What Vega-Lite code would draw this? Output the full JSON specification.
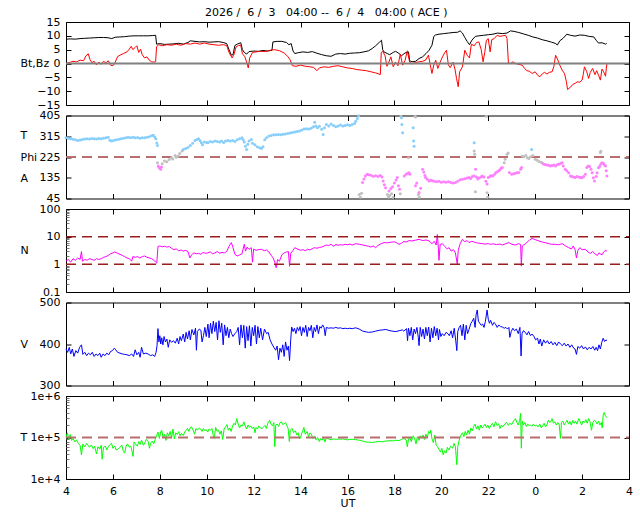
{
"$schema": "https://vega.github.io/schema/vega-lite/v6.json",
"padding": {"left": 19, "top": 6, "right": 5, "bottom": 2},
"background": "white",
"title": {"text": "2026 /\u00a0\u00a06 /\u00a0\u00a03\u00a0\u00a0\u00a004:00 --\u00a0\u00a06 /\u00a0\u00a04\u00a0\u00a0\u00a004:00 ( ACE )", "anchor": "middle", "font": "DejaVu Sans", "fontSize": 11, "fontWeight": "normal", "color": "black", "offset": -2},
"config": {
  "font": "DejaVu Sans",
  "view": {"stroke": "black", "strokeWidth": 1},
  "axis": {"domain": false, "grid": false, "tickColor": "black", "tickSize": -5, "labelFont": "DejaVu Sans", "labelFontSize": 11, "labelColor": "black", "labelPadding": 11, "titleFont": "DejaVu Sans", "titleFontSize": 11, "titleFontWeight": "normal", "titleColor": "black", "labelFlush": false, "labelOverlap": false}
},
"bounds": "flush",
"spacing": 10.5,
"datasets": {
"bt": [{"h":4.0,"v":8.8},{"h":4.2,"v":8.9},{"h":4.4,"v":8.8},{"h":4.6,"v":9.0},{"h":4.8,"v":9.1},{"h":5.0,"v":9.2},{"h":5.2,"v":9.3},{"h":5.4,"v":9.4},{"h":5.6,"v":9.4},{"h":5.8,"v":9.3},{"h":5.95,"v":9.0},{"h":6.1,"v":9.5},{"h":6.3,"v":9.6},{"h":6.5,"v":9.7},{"h":6.7,"v":9.9},{"h":6.9,"v":10.0},{"h":7.1,"v":10.0},{"h":7.3,"v":10.0},{"h":7.5,"v":10.0},{"h":7.7,"v":10.1},{"h":7.82,"v":10.2},{"h":7.86,"v":7.0},{"h":8.0,"v":7.2},{"h":8.2,"v":6.9},{"h":8.4,"v":7.0},{"h":8.6,"v":7.1},{"h":8.8,"v":7.3},{"h":9.0,"v":7.0},{"h":9.2,"v":7.6},{"h":9.3,"v":8.2},{"h":9.5,"v":8.0},{"h":9.7,"v":7.8},{"h":9.9,"v":7.9},{"h":10.1,"v":7.7},{"h":10.3,"v":7.8},{"h":10.5,"v":7.9},{"h":10.7,"v":7.6},{"h":10.85,"v":7.2},{"h":10.95,"v":5.0},{"h":11.05,"v":3.0},{"h":11.12,"v":3.2},{"h":11.2,"v":6.5},{"h":11.3,"v":7.0},{"h":11.45,"v":7.5},{"h":11.52,"v":5.0},{"h":11.6,"v":4.0},{"h":11.7,"v":3.4},{"h":11.8,"v":4.3},{"h":12.0,"v":4.5},{"h":12.2,"v":4.4},{"h":12.4,"v":4.7},{"h":12.6,"v":4.5},{"h":12.78,"v":4.8},{"h":12.82,"v":7.8},{"h":13.0,"v":8.0},{"h":13.2,"v":8.0},{"h":13.4,"v":7.6},{"h":13.5,"v":6.8},{"h":13.6,"v":7.2},{"h":13.68,"v":4.5},{"h":13.75,"v":3.6},{"h":13.9,"v":3.9},{"h":14.1,"v":4.2},{"h":14.3,"v":4.0},{"h":14.5,"v":4.3},{"h":14.7,"v":3.7},{"h":14.9,"v":3.2},{"h":15.1,"v":2.8},{"h":15.3,"v":2.6},{"h":15.5,"v":3.4},{"h":15.7,"v":3.6},{"h":15.9,"v":3.4},{"h":16.1,"v":3.7},{"h":16.3,"v":3.8},{"h":16.5,"v":3.9},{"h":16.7,"v":4.2},{"h":16.9,"v":4.6},{"h":17.05,"v":5.4},{"h":17.2,"v":6.4},{"h":17.35,"v":7.6},{"h":17.45,"v":8.4},{"h":17.5,"v":5.0},{"h":17.55,"v":4.2},{"h":17.7,"v":3.6},{"h":17.8,"v":3.2},{"h":17.95,"v":4.0},{"h":18.05,"v":4.4},{"h":18.2,"v":3.6},{"h":18.3,"v":2.8},{"h":18.45,"v":3.8},{"h":18.6,"v":4.2},{"h":18.65,"v":1.0},{"h":18.75,"v":0.6},{"h":18.9,"v":0.8},{"h":19.05,"v":1.8},{"h":19.2,"v":2.4},{"h":19.35,"v":3.6},{"h":19.48,"v":4.8},{"h":19.6,"v":6.6},{"h":19.68,"v":9.8},{"h":19.75,"v":10.3},{"h":19.9,"v":10.6},{"h":20.1,"v":10.8},{"h":20.3,"v":11.0},{"h":20.5,"v":11.2},{"h":20.7,"v":11.3},{"h":20.8,"v":11.8},{"h":20.9,"v":11.0},{"h":21.0,"v":9.4},{"h":21.1,"v":8.0},{"h":21.2,"v":6.8},{"h":21.3,"v":8.4},{"h":21.45,"v":9.8},{"h":21.6,"v":10.0},{"h":21.8,"v":10.2},{"h":22.0,"v":10.4},{"h":22.2,"v":10.6},{"h":22.4,"v":11.0},{"h":22.6,"v":10.8},{"h":22.8,"v":11.0},{"h":22.95,"v":11.8},{"h":23.1,"v":11.6},{"h":23.3,"v":11.2},{"h":23.5,"v":10.7},{"h":23.7,"v":10.2},{"h":23.9,"v":9.6},{"h":24.1,"v":9.2},{"h":24.3,"v":8.6},{"h":24.5,"v":8.2},{"h":24.7,"v":7.7},{"h":24.85,"v":7.3},{"h":24.95,"v":6.7},{"h":25.05,"v":8.2},{"h":25.2,"v":9.2},{"h":25.35,"v":10.6},{"h":25.5,"v":10.2},{"h":25.7,"v":9.9},{"h":25.9,"v":10.3},{"h":26.1,"v":10.2},{"h":26.3,"v":9.8},{"h":26.5,"v":9.6},{"h":26.6,"v":8.4},{"h":26.7,"v":7.4},{"h":26.85,"v":7.5},{"h":27.0,"v":7.0},{"h":27.05,"v":7.3}],
"bz": [{"h":4.0,"v":-0.2},{"h":4.1,"v":0.3},{"h":4.2,"v":0.5},{"h":4.3,"v":0.8},{"h":4.45,"v":0.6},{"h":4.6,"v":1.2},{"h":4.75,"v":1.0},{"h":4.85,"v":2.8},{"h":4.95,"v":3.5},{"h":5.02,"v":1.5},{"h":5.1,"v":0.3},{"h":5.2,"v":0.8},{"h":5.3,"v":-0.5},{"h":5.4,"v":0.5},{"h":5.5,"v":-0.3},{"h":5.6,"v":0.8},{"h":5.7,"v":0.2},{"h":5.8,"v":1.0},{"h":5.9,"v":-0.6},{"h":6.0,"v":-0.8},{"h":6.1,"v":0.5},{"h":6.2,"v":2.5},{"h":6.3,"v":3.0},{"h":6.45,"v":3.6},{"h":6.6,"v":4.2},{"h":6.7,"v":5.2},{"h":6.78,"v":6.2},{"h":6.85,"v":5.0},{"h":6.95,"v":5.8},{"h":7.02,"v":6.4},{"h":7.1,"v":4.0},{"h":7.18,"v":5.2},{"h":7.25,"v":3.2},{"h":7.35,"v":2.0},{"h":7.45,"v":2.4},{"h":7.55,"v":1.2},{"h":7.65,"v":0.6},{"h":7.75,"v":0.5},{"h":7.82,"v":0.7},{"h":7.86,"v":6.0},{"h":7.95,"v":6.8},{"h":8.1,"v":6.4},{"h":8.3,"v":6.8},{"h":8.5,"v":6.6},{"h":8.7,"v":7.0},{"h":8.9,"v":6.6},{"h":9.1,"v":7.2},{"h":9.3,"v":7.0},{"h":9.5,"v":7.4},{"h":9.7,"v":7.0},{"h":9.9,"v":7.4},{"h":10.1,"v":7.0},{"h":10.3,"v":6.8},{"h":10.5,"v":6.6},{"h":10.7,"v":6.8},{"h":10.85,"v":6.5},{"h":10.95,"v":4.0},{"h":11.08,"v":2.0},{"h":11.15,"v":3.0},{"h":11.25,"v":6.0},{"h":11.35,"v":6.5},{"h":11.45,"v":6.6},{"h":11.52,"v":3.5},{"h":11.62,"v":2.5},{"h":11.7,"v":0.5},{"h":11.77,"v":-1.6},{"h":11.83,"v":2.0},{"h":11.95,"v":4.0},{"h":12.1,"v":4.2},{"h":12.3,"v":4.4},{"h":12.5,"v":4.3},{"h":12.7,"v":4.8},{"h":12.9,"v":5.0},{"h":13.1,"v":4.6},{"h":13.3,"v":3.8},{"h":13.45,"v":2.6},{"h":13.55,"v":1.4},{"h":13.65,"v":-0.8},{"h":13.8,"v":-1.0},{"h":14.0,"v":-0.6},{"h":14.2,"v":-1.0},{"h":14.4,"v":-1.2},{"h":14.55,"v":-1.4},{"h":14.7,"v":-2.6},{"h":14.8,"v":-1.6},{"h":15.0,"v":-1.2},{"h":15.2,"v":-1.4},{"h":15.4,"v":-1.0},{"h":15.6,"v":-0.8},{"h":15.8,"v":-1.2},{"h":16.0,"v":-1.6},{"h":16.2,"v":-1.8},{"h":16.4,"v":-2.2},{"h":16.6,"v":-2.4},{"h":16.8,"v":-2.6},{"h":17.0,"v":-3.0},{"h":17.2,"v":-3.4},{"h":17.4,"v":-4.0},{"h":17.44,"v":4.0},{"h":17.5,"v":4.4},{"h":17.6,"v":2.8},{"h":17.68,"v":-1.0},{"h":17.75,"v":0.2},{"h":17.85,"v":2.4},{"h":17.95,"v":-1.2},{"h":18.05,"v":0.5},{"h":18.15,"v":-0.8},{"h":18.25,"v":3.4},{"h":18.35,"v":-0.6},{"h":18.45,"v":1.0},{"h":18.55,"v":4.6},{"h":18.65,"v":0.5},{"h":18.75,"v":-0.2},{"h":18.9,"v":0.4},{"h":19.05,"v":0.6},{"h":19.2,"v":0.8},{"h":19.33,"v":1.2},{"h":19.45,"v":3.0},{"h":19.55,"v":-1.5},{"h":19.6,"v":-3.6},{"h":19.68,"v":-0.5},{"h":19.76,"v":1.2},{"h":19.85,"v":-1.8},{"h":19.95,"v":0.5},{"h":20.05,"v":2.4},{"h":20.15,"v":4.0},{"h":20.22,"v":4.8},{"h":20.3,"v":-0.5},{"h":20.38,"v":-1.5},{"h":20.5,"v":0.5},{"h":20.58,"v":-2.0},{"h":20.65,"v":-5.5},{"h":20.72,"v":-8.4},{"h":20.78,"v":-3.0},{"h":20.9,"v":-1.2},{"h":21.0,"v":4.8},{"h":21.1,"v":3.0},{"h":21.2,"v":2.0},{"h":21.28,"v":7.0},{"h":21.4,"v":6.4},{"h":21.5,"v":7.6},{"h":21.6,"v":7.8},{"h":21.7,"v":5.0},{"h":21.78,"v":0.6},{"h":21.85,"v":4.0},{"h":21.92,"v":8.4},{"h":22.0,"v":9.0},{"h":22.08,"v":4.2},{"h":22.15,"v":8.6},{"h":22.25,"v":9.0},{"h":22.38,"v":10.2},{"h":22.5,"v":9.8},{"h":22.62,"v":10.0},{"h":22.74,"v":10.2},{"h":22.8,"v":9.0},{"h":22.86,"v":0.2},{"h":22.95,"v":0.0},{"h":23.05,"v":0.6},{"h":23.15,"v":0.0},{"h":23.3,"v":-0.3},{"h":23.45,"v":-0.6},{"h":23.55,"v":-1.8},{"h":23.65,"v":-2.6},{"h":23.75,"v":-2.8},{"h":23.87,"v":-3.6},{"h":24.0,"v":-3.0},{"h":24.1,"v":-4.2},{"h":24.2,"v":-4.8},{"h":24.3,"v":-3.8},{"h":24.4,"v":-3.2},{"h":24.5,"v":-3.8},{"h":24.6,"v":-3.2},{"h":24.72,"v":-3.0},{"h":24.8,"v":-1.0},{"h":24.87,"v":3.0},{"h":24.95,"v":1.6},{"h":25.05,"v":-0.6},{"h":25.15,"v":-2.4},{"h":25.25,"v":-3.6},{"h":25.33,"v":-6.5},{"h":25.38,"v":-9.4},{"h":25.5,"v":-8.6},{"h":25.6,"v":-7.6},{"h":25.7,"v":-7.2},{"h":25.8,"v":-6.6},{"h":25.9,"v":-6.8},{"h":26.0,"v":-6.0},{"h":26.05,"v":-4.0},{"h":26.1,"v":-1.2},{"h":26.2,"v":-3.0},{"h":26.28,"v":-5.4},{"h":26.35,"v":-3.2},{"h":26.45,"v":-1.8},{"h":26.55,"v":-4.0},{"h":26.62,"v":-2.6},{"h":26.7,"v":-4.2},{"h":26.78,"v":-6.0},{"h":26.85,"v":-2.0},{"h":26.92,"v":-3.0},{"h":27.0,"v":-4.6},{"h":27.03,"v":-2.0},{"h":27.06,"v":0.0}],
"phi": [{"h":4.0,"v":308,"s":"T"},{"h":4.1,"v":306,"s":"T"},{"h":4.2,"v":304,"s":"T"},{"h":4.3,"v":302,"s":"T"},{"h":4.4,"v":300,"s":"T"},{"h":4.5,"v":297,"s":"T"},{"h":4.6,"v":299,"s":"T"},{"h":4.7,"v":301,"s":"T"},{"h":4.8,"v":303,"s":"T"},{"h":4.9,"v":304,"s":"T"},{"h":5.0,"v":303,"s":"T"},{"h":5.1,"v":305,"s":"T"},{"h":5.2,"v":304,"s":"T"},{"h":5.3,"v":303,"s":"T"},{"h":5.4,"v":305,"s":"T"},{"h":5.5,"v":304,"s":"T"},{"h":5.6,"v":306,"s":"T"},{"h":5.7,"v":308,"s":"T"},{"h":5.8,"v":311,"s":"T"},{"h":5.87,"v":298,"s":"T"},{"h":5.95,"v":294,"s":"T"},{"h":6.05,"v":298,"s":"T"},{"h":6.15,"v":300,"s":"T"},{"h":6.25,"v":302,"s":"T"},{"h":6.35,"v":304,"s":"T"},{"h":6.45,"v":306,"s":"T"},{"h":6.55,"v":309,"s":"T"},{"h":6.65,"v":311,"s":"T"},{"h":6.75,"v":309,"s":"T"},{"h":6.85,"v":311,"s":"T"},{"h":6.95,"v":308,"s":"T"},{"h":7.05,"v":310,"s":"T"},{"h":7.15,"v":306,"s":"T"},{"h":7.25,"v":308,"s":"T"},{"h":7.35,"v":309,"s":"T"},{"h":7.45,"v":311,"s":"T"},{"h":7.55,"v":313,"s":"T"},{"h":7.65,"v":317,"s":"T"},{"h":7.72,"v":319,"s":"T"},{"h":7.78,"v":312,"s":"T"},{"h":7.83,"v":304,"s":"T"},{"h":7.87,"v":286,"s":"T"},{"h":7.9,"v":275,"s":"T"},{"h":7.93,"v":186,"s":"A"},{"h":7.97,"v":180,"s":"A"},{"h":8.0,"v":178,"s":"A"},{"h":8.03,"v":172,"s":"A"},{"h":8.07,"v":182,"s":"A"},{"h":7.9,"v":200,"s":"G"},{"h":8.1,"v":196,"s":"G"},{"h":8.2,"v":208,"s":"G"},{"h":8.3,"v":204,"s":"G"},{"h":8.4,"v":214,"s":"G"},{"h":8.5,"v":222,"s":"G"},{"h":8.55,"v":216,"s":"G"},{"h":8.65,"v":232,"s":"G"},{"h":8.7,"v":224,"s":"G"},{"h":8.78,"v":229,"s":"G"},{"h":8.85,"v":240,"s":"G"},{"h":8.95,"v":251,"s":"G"},{"h":9.0,"v":258,"s":"T"},{"h":9.1,"v":262,"s":"T"},{"h":9.2,"v":266,"s":"T"},{"h":9.3,"v":275,"s":"T"},{"h":9.4,"v":285,"s":"T"},{"h":9.5,"v":297,"s":"T"},{"h":9.58,"v":301,"s":"T"},{"h":9.65,"v":304,"s":"T"},{"h":9.72,"v":296,"s":"T"},{"h":9.77,"v":287,"s":"T"},{"h":9.82,"v":278,"s":"T"},{"h":9.9,"v":290,"s":"T"},{"h":10.0,"v":288,"s":"T"},{"h":10.05,"v":287,"s":"T"},{"h":10.15,"v":292,"s":"T"},{"h":10.25,"v":290,"s":"T"},{"h":10.35,"v":294,"s":"T"},{"h":10.45,"v":292,"s":"T"},{"h":10.55,"v":290,"s":"T"},{"h":10.63,"v":294,"s":"T"},{"h":10.72,"v":288,"s":"T"},{"h":10.8,"v":294,"s":"T"},{"h":10.9,"v":297,"s":"T"},{"h":11.0,"v":294,"s":"T"},{"h":11.1,"v":297,"s":"T"},{"h":11.2,"v":292,"s":"T"},{"h":11.3,"v":300,"s":"T"},{"h":11.4,"v":304,"s":"T"},{"h":11.5,"v":309,"s":"T"},{"h":11.55,"v":300,"s":"T"},{"h":11.6,"v":290,"s":"T"},{"h":11.65,"v":272,"s":"T"},{"h":11.7,"v":258,"s":"T"},{"h":11.75,"v":280,"s":"T"},{"h":11.8,"v":294,"s":"T"},{"h":11.9,"v":301,"s":"T"},{"h":11.95,"v":285,"s":"T"},{"h":12.05,"v":278,"s":"T"},{"h":12.15,"v":270,"s":"T"},{"h":12.25,"v":265,"s":"T"},{"h":12.33,"v":262,"s":"T"},{"h":12.4,"v":270,"s":"T"},{"h":12.47,"v":300,"s":"T"},{"h":12.55,"v":309,"s":"T"},{"h":12.65,"v":316,"s":"T"},{"h":12.75,"v":318,"s":"T"},{"h":12.85,"v":322,"s":"T"},{"h":12.95,"v":321,"s":"T"},{"h":13.05,"v":323,"s":"T"},{"h":13.15,"v":322,"s":"T"},{"h":13.25,"v":324,"s":"T"},{"h":13.35,"v":325,"s":"T"},{"h":13.45,"v":327,"s":"T"},{"h":13.55,"v":329,"s":"T"},{"h":13.65,"v":331,"s":"T"},{"h":13.75,"v":333,"s":"T"},{"h":13.85,"v":336,"s":"T"},{"h":13.95,"v":338,"s":"T"},{"h":14.05,"v":342,"s":"T"},{"h":14.15,"v":346,"s":"T"},{"h":14.25,"v":348,"s":"T"},{"h":14.35,"v":346,"s":"T"},{"h":14.45,"v":350,"s":"T"},{"h":14.55,"v":356,"s":"T"},{"h":14.6,"v":376,"s":"T"},{"h":14.65,"v":360,"s":"T"},{"h":14.72,"v":352,"s":"T"},{"h":14.8,"v":358,"s":"T"},{"h":14.9,"v":345,"s":"T"},{"h":14.96,"v":323,"s":"T"},{"h":15.02,"v":352,"s":"T"},{"h":15.1,"v":366,"s":"T"},{"h":15.2,"v":360,"s":"T"},{"h":15.3,"v":368,"s":"T"},{"h":15.4,"v":362,"s":"T"},{"h":15.5,"v":356,"s":"T"},{"h":15.6,"v":360,"s":"T"},{"h":15.7,"v":364,"s":"T"},{"h":15.8,"v":359,"s":"T"},{"h":15.9,"v":362,"s":"T"},{"h":16.0,"v":365,"s":"T"},{"h":16.1,"v":362,"s":"T"},{"h":16.2,"v":366,"s":"T"},{"h":16.3,"v":370,"s":"T"},{"h":16.35,"v":380,"s":"T"},{"h":16.42,"v":392,"s":"T"},{"h":16.47,"v":404,"s":"T"},{"h":16.5,"v":62,"s":"G"},{"h":16.55,"v":50,"s":"G"},{"h":16.6,"v":68,"s":"G"},{"h":16.64,"v":114,"s":"A"},{"h":16.7,"v":130,"s":"A"},{"h":16.76,"v":143,"s":"A"},{"h":16.84,"v":150,"s":"A"},{"h":16.9,"v":148,"s":"A"},{"h":17.0,"v":146,"s":"A"},{"h":17.1,"v":142,"s":"A"},{"h":17.2,"v":144,"s":"A"},{"h":17.3,"v":140,"s":"A"},{"h":17.4,"v":145,"s":"A"},{"h":17.47,"v":138,"s":"A"},{"h":17.52,"v":121,"s":"A"},{"h":17.57,"v":105,"s":"A"},{"h":17.62,"v":92,"s":"A"},{"h":17.7,"v":62,"s":"G"},{"h":17.75,"v":52,"s":"G"},{"h":17.8,"v":58,"s":"G"},{"h":17.88,"v":66,"s":"G"},{"h":17.95,"v":50,"s":"G"},{"h":17.77,"v":78,"s":"A"},{"h":17.85,"v":88,"s":"A"},{"h":17.92,"v":96,"s":"A"},{"h":18.0,"v":112,"s":"A"},{"h":18.07,"v":125,"s":"A"},{"h":18.12,"v":136,"s":"A"},{"h":18.17,"v":100,"s":"A"},{"h":18.22,"v":85,"s":"A"},{"h":18.25,"v":66,"s":"G"},{"h":18.28,"v":402,"s":"G"},{"h":18.3,"v":395,"s":"T"},{"h":18.32,"v":366,"s":"T"},{"h":18.35,"v":330,"s":"T"},{"h":18.42,"v":143,"s":"A"},{"h":18.5,"v":150,"s":"A"},{"h":18.56,"v":153,"s":"A"},{"h":18.62,"v":157,"s":"A"},{"h":18.66,"v":150,"s":"A"},{"h":18.6,"v":222,"s":"G"},{"h":18.8,"v":352,"s":"T"},{"h":18.82,"v":294,"s":"T"},{"h":18.84,"v":272,"s":"T"},{"h":18.88,"v":402,"s":"G"},{"h":18.9,"v":398,"s":"G"},{"h":19.02,"v":62,"s":"G"},{"h":19.06,"v":50,"s":"G"},{"h":18.9,"v":100,"s":"A"},{"h":18.95,"v":112,"s":"A"},{"h":19.05,"v":71,"s":"A"},{"h":19.12,"v":90,"s":"A"},{"h":19.2,"v":172,"s":"A"},{"h":19.25,"v":160,"s":"A"},{"h":19.3,"v":145,"s":"A"},{"h":19.33,"v":136,"s":"A"},{"h":19.4,"v":128,"s":"A"},{"h":19.48,"v":121,"s":"A"},{"h":19.55,"v":124,"s":"A"},{"h":19.62,"v":122,"s":"A"},{"h":19.7,"v":120,"s":"A"},{"h":19.8,"v":118,"s":"A"},{"h":19.9,"v":120,"s":"A"},{"h":20.0,"v":116,"s":"A"},{"h":20.1,"v":118,"s":"A"},{"h":20.2,"v":116,"s":"A"},{"h":20.3,"v":118,"s":"A"},{"h":20.4,"v":114,"s":"A"},{"h":20.5,"v":112,"s":"A"},{"h":20.6,"v":114,"s":"A"},{"h":20.7,"v":120,"s":"A"},{"h":20.8,"v":126,"s":"A"},{"h":20.9,"v":129,"s":"A"},{"h":21.0,"v":131,"s":"A"},{"h":21.1,"v":134,"s":"A"},{"h":21.18,"v":136,"s":"A"},{"h":21.25,"v":132,"s":"A"},{"h":21.32,"v":140,"s":"A"},{"h":21.4,"v":143,"s":"A"},{"h":21.46,"v":172,"s":"A"},{"h":21.5,"v":138,"s":"A"},{"h":21.55,"v":130,"s":"A"},{"h":21.62,"v":135,"s":"A"},{"h":21.7,"v":138,"s":"A"},{"h":21.74,"v":143,"s":"A"},{"h":21.82,"v":138,"s":"A"},{"h":21.9,"v":120,"s":"A"},{"h":21.95,"v":108,"s":"A"},{"h":22.0,"v":136,"s":"A"},{"h":22.07,"v":140,"s":"A"},{"h":22.13,"v":145,"s":"A"},{"h":22.2,"v":143,"s":"A"},{"h":22.27,"v":150,"s":"A"},{"h":22.33,"v":158,"s":"A"},{"h":22.4,"v":162,"s":"A"},{"h":22.45,"v":165,"s":"A"},{"h":22.5,"v":170,"s":"A"},{"h":22.55,"v":176,"s":"A"},{"h":22.6,"v":179,"s":"A"},{"h":21.4,"v":251,"s":"G"},{"h":21.42,"v":237,"s":"G"},{"h":21.45,"v":74,"s":"G"},{"h":21.92,"v":402,"s":"G"},{"h":21.95,"v":70,"s":"G"},{"h":21.98,"v":50,"s":"G"},{"h":22.68,"v":200,"s":"G"},{"h":22.72,"v":215,"s":"G"},{"h":22.8,"v":237,"s":"G"},{"h":22.85,"v":242,"s":"G"},{"h":21.4,"v":287,"s":"T"},{"h":22.9,"v":158,"s":"A"},{"h":23.0,"v":150,"s":"A"},{"h":23.08,"v":152,"s":"A"},{"h":23.15,"v":155,"s":"A"},{"h":23.22,"v":157,"s":"A"},{"h":23.3,"v":158,"s":"A"},{"h":23.38,"v":172,"s":"A"},{"h":23.42,"v":179,"s":"A"},{"h":23.45,"v":229,"s":"G"},{"h":23.52,"v":226,"s":"G"},{"h":23.6,"v":232,"s":"G"},{"h":23.67,"v":222,"s":"G"},{"h":23.73,"v":218,"s":"G"},{"h":23.8,"v":226,"s":"G"},{"h":23.9,"v":232,"s":"G"},{"h":24.0,"v":215,"s":"G"},{"h":24.08,"v":212,"s":"G"},{"h":24.16,"v":206,"s":"G"},{"h":24.25,"v":202,"s":"G"},{"h":24.3,"v":200,"s":"G"},{"h":23.85,"v":258,"s":"T"},{"h":24.35,"v":195,"s":"A"},{"h":24.42,"v":192,"s":"A"},{"h":24.5,"v":190,"s":"A"},{"h":24.58,"v":189,"s":"A"},{"h":24.65,"v":186,"s":"A"},{"h":24.72,"v":188,"s":"A"},{"h":24.8,"v":190,"s":"A"},{"h":24.87,"v":186,"s":"A"},{"h":24.95,"v":192,"s":"A"},{"h":25.02,"v":195,"s":"A"},{"h":25.1,"v":198,"s":"A"},{"h":25.15,"v":200,"s":"A"},{"h":25.2,"v":186,"s":"A"},{"h":25.28,"v":172,"s":"A"},{"h":25.35,"v":165,"s":"A"},{"h":25.43,"v":157,"s":"A"},{"h":25.5,"v":143,"s":"A"},{"h":25.57,"v":140,"s":"A"},{"h":25.64,"v":138,"s":"A"},{"h":25.7,"v":136,"s":"A"},{"h":25.78,"v":140,"s":"A"},{"h":25.85,"v":138,"s":"A"},{"h":25.92,"v":136,"s":"A"},{"h":26.0,"v":135,"s":"A"},{"h":26.07,"v":140,"s":"A"},{"h":26.14,"v":150,"s":"A"},{"h":26.2,"v":180,"s":"A"},{"h":26.26,"v":186,"s":"A"},{"h":26.32,"v":184,"s":"A"},{"h":26.38,"v":172,"s":"A"},{"h":26.43,"v":157,"s":"A"},{"h":26.48,"v":135,"s":"A"},{"h":26.53,"v":121,"s":"A"},{"h":26.6,"v":140,"s":"A"},{"h":26.64,"v":157,"s":"A"},{"h":26.7,"v":178,"s":"A"},{"h":26.75,"v":185,"s":"A"},{"h":26.8,"v":195,"s":"A"},{"h":26.85,"v":200,"s":"A"},{"h":26.9,"v":198,"s":"A"},{"h":26.95,"v":190,"s":"A"},{"h":27.0,"v":186,"s":"A"},{"h":27.03,"v":165,"s":"A"},{"h":27.06,"v":143,"s":"A"},{"h":26.78,"v":244,"s":"G"},{"h":26.8,"v":250,"s":"G"}],
"n": [{"h":4.0,"v":1.3},{"h":4.1,"v":1.5},{"h":4.2,"v":1.2},{"h":4.3,"v":1.6},{"h":4.4,"v":1.4},{"h":4.5,"v":1.7},{"h":4.6,"v":1.5},{"h":4.66,"v":2.9},{"h":4.7,"v":1.3},{"h":4.8,"v":1.5},{"h":4.9,"v":1.4},{"h":5.0,"v":1.6},{"h":5.1,"v":1.5},{"h":5.2,"v":1.4},{"h":5.3,"v":1.6},{"h":5.4,"v":1.5},{"h":5.5,"v":1.6},{"h":5.6,"v":1.8},{"h":5.7,"v":1.9},{"h":5.8,"v":2.1},{"h":5.9,"v":2.4},{"h":6.0,"v":2.6},{"h":6.08,"v":2.8},{"h":6.2,"v":2.5},{"h":6.3,"v":2.3},{"h":6.4,"v":2.1},{"h":6.5,"v":1.9},{"h":6.6,"v":1.7},{"h":6.7,"v":1.6},{"h":6.8,"v":1.3},{"h":6.85,"v":1.9},{"h":6.95,"v":1.8},{"h":7.05,"v":1.9},{"h":7.15,"v":1.7},{"h":7.25,"v":1.9},{"h":7.35,"v":2.0},{"h":7.45,"v":1.8},{"h":7.55,"v":1.7},{"h":7.65,"v":1.6},{"h":7.75,"v":1.4},{"h":7.82,"v":1.2},{"h":7.87,"v":1.1},{"h":7.92,"v":4.4},{"h":8.0,"v":4.6},{"h":8.1,"v":4.3},{"h":8.2,"v":4.5},{"h":8.3,"v":4.2},{"h":8.4,"v":4.4},{"h":8.5,"v":3.8},{"h":8.6,"v":3.4},{"h":8.7,"v":3.6},{"h":8.8,"v":3.1},{"h":8.9,"v":3.3},{"h":9.0,"v":3.0},{"h":9.1,"v":3.2},{"h":9.2,"v":2.9},{"h":9.28,"v":1.7},{"h":9.35,"v":2.2},{"h":9.45,"v":2.6},{"h":9.55,"v":2.4},{"h":9.65,"v":2.5},{"h":9.75,"v":2.3},{"h":9.85,"v":2.7},{"h":9.95,"v":2.5},{"h":10.05,"v":2.6},{"h":10.15,"v":2.8},{"h":10.25,"v":2.4},{"h":10.35,"v":2.6},{"h":10.45,"v":2.9},{"h":10.55,"v":2.5},{"h":10.65,"v":2.7},{"h":10.75,"v":2.6},{"h":10.85,"v":2.9},{"h":10.95,"v":4.5},{"h":11.05,"v":6.1},{"h":11.12,"v":4.0},{"h":11.2,"v":2.3},{"h":11.3,"v":2.0},{"h":11.4,"v":2.2},{"h":11.5,"v":2.4},{"h":11.6,"v":5.3},{"h":11.65,"v":3.0},{"h":11.72,"v":4.2},{"h":11.8,"v":3.5},{"h":11.9,"v":4.0},{"h":11.95,"v":1.2},{"h":12.0,"v":3.6},{"h":12.1,"v":3.2},{"h":12.2,"v":3.4},{"h":12.33,"v":3.5},{"h":12.45,"v":3.1},{"h":12.55,"v":3.3},{"h":12.65,"v":2.8},{"h":12.75,"v":2.1},{"h":12.83,"v":1.7},{"h":12.9,"v":1.2},{"h":12.96,"v":0.75},{"h":13.02,"v":1.5},{"h":13.1,"v":1.3},{"h":13.2,"v":2.2},{"h":13.3,"v":2.6},{"h":13.4,"v":2.8},{"h":13.48,"v":2.9},{"h":13.53,"v":0.85},{"h":13.58,"v":2.5},{"h":13.68,"v":3.2},{"h":13.75,"v":4.0},{"h":13.85,"v":3.6},{"h":14.0,"v":3.2},{"h":14.1,"v":3.4},{"h":14.2,"v":3.1},{"h":14.3,"v":3.5},{"h":14.4,"v":3.3},{"h":14.5,"v":3.7},{"h":14.6,"v":4.0},{"h":14.7,"v":3.8},{"h":14.8,"v":4.1},{"h":14.9,"v":4.2},{"h":15.0,"v":4.6},{"h":15.1,"v":5.0},{"h":15.2,"v":4.8},{"h":15.3,"v":5.3},{"h":15.4,"v":4.5},{"h":15.5,"v":5.2},{"h":15.6,"v":4.9},{"h":15.7,"v":5.1},{"h":15.8,"v":5.0},{"h":15.9,"v":5.3},{"h":16.0,"v":5.1},{"h":16.1,"v":5.4},{"h":16.2,"v":5.0},{"h":16.35,"v":5.6},{"h":16.5,"v":5.3},{"h":16.65,"v":5.0},{"h":16.8,"v":4.7},{"h":16.9,"v":4.5},{"h":17.0,"v":4.2},{"h":17.1,"v":4.6},{"h":17.2,"v":4.0},{"h":17.3,"v":4.8},{"h":17.4,"v":5.4},{"h":17.56,"v":6.1},{"h":17.7,"v":6.0},{"h":17.85,"v":6.3},{"h":18.0,"v":6.5},{"h":18.1,"v":6.0},{"h":18.2,"v":5.3},{"h":18.3,"v":5.8},{"h":18.4,"v":6.7},{"h":18.5,"v":6.4},{"h":18.62,"v":7.2},{"h":18.75,"v":7.0},{"h":18.9,"v":7.5},{"h":19.05,"v":8.0},{"h":19.2,"v":7.2},{"h":19.35,"v":7.6},{"h":19.48,"v":7.0},{"h":19.6,"v":5.6},{"h":19.7,"v":6.8},{"h":19.78,"v":5.0},{"h":19.83,"v":12.0},{"h":19.87,"v":4.2},{"h":19.9,"v":1.4},{"h":19.95,"v":5.2},{"h":20.04,"v":5.6},{"h":20.15,"v":4.4},{"h":20.25,"v":3.6},{"h":20.33,"v":4.0},{"h":20.42,"v":3.0},{"h":20.52,"v":3.4},{"h":20.6,"v":2.6},{"h":20.68,"v":1.0},{"h":20.72,"v":3.2},{"h":20.8,"v":5.5},{"h":20.9,"v":8.0},{"h":21.0,"v":6.6},{"h":21.1,"v":7.2},{"h":21.18,"v":6.1},{"h":21.3,"v":6.8},{"h":21.4,"v":6.4},{"h":21.5,"v":6.0},{"h":21.6,"v":5.8},{"h":21.74,"v":5.6},{"h":21.85,"v":5.4},{"h":22.0,"v":5.6},{"h":22.1,"v":5.3},{"h":22.2,"v":5.5},{"h":22.35,"v":5.2},{"h":22.5,"v":5.4},{"h":22.6,"v":5.0},{"h":22.75,"v":5.6},{"h":22.88,"v":6.1},{"h":23.0,"v":5.3},{"h":23.15,"v":5.0},{"h":23.3,"v":5.6},{"h":23.38,"v":5.2},{"h":23.41,"v":0.86},{"h":23.45,"v":4.6},{"h":23.6,"v":5.7},{"h":23.75,"v":7.4},{"h":23.87,"v":8.7},{"h":24.0,"v":7.8},{"h":24.16,"v":7.0},{"h":24.3,"v":6.4},{"h":24.45,"v":6.0},{"h":24.58,"v":5.6},{"h":24.7,"v":5.3},{"h":24.87,"v":5.3},{"h":25.0,"v":5.1},{"h":25.15,"v":5.6},{"h":25.3,"v":4.6},{"h":25.43,"v":4.0},{"h":25.55,"v":3.6},{"h":25.62,"v":4.6},{"h":25.7,"v":3.5},{"h":25.76,"v":1.7},{"h":25.82,"v":3.2},{"h":25.9,"v":4.0},{"h":26.0,"v":3.4},{"h":26.14,"v":3.5},{"h":26.25,"v":2.8},{"h":26.35,"v":2.5},{"h":26.45,"v":2.9},{"h":26.57,"v":2.3},{"h":26.65,"v":2.1},{"h":26.72,"v":2.6},{"h":26.8,"v":2.3},{"h":26.85,"v":2.2},{"h":26.92,"v":2.8},{"h":27.0,"v":3.2},{"h":27.06,"v":3.0}],
"vel": [{"h":4.0,"v":388},{"h":4.07,"v":380},{"h":4.14,"v":392},{"h":4.2,"v":376},{"h":4.27,"v":388},{"h":4.34,"v":370},{"h":4.42,"v":384},{"h":4.5,"v":378},{"h":4.58,"v":392},{"h":4.66,"v":398},{"h":4.72,"v":375},{"h":4.8,"v":380},{"h":4.88,"v":372},{"h":4.96,"v":378},{"h":5.04,"v":374},{"h":5.12,"v":380},{"h":5.2,"v":370},{"h":5.28,"v":376},{"h":5.36,"v":372},{"h":5.44,"v":378},{"h":5.5,"v":368},{"h":5.58,"v":376},{"h":5.66,"v":372},{"h":5.74,"v":378},{"h":5.82,"v":374},{"h":5.9,"v":382},{"h":5.98,"v":384},{"h":6.06,"v":390},{"h":6.12,"v":386},{"h":6.2,"v":380},{"h":6.3,"v":378},{"h":6.4,"v":376},{"h":6.5,"v":375},{"h":6.6,"v":374},{"h":6.7,"v":372},{"h":6.8,"v":376},{"h":6.88,"v":370},{"h":6.95,"v":386},{"h":7.02,"v":374},{"h":7.1,"v":380},{"h":7.16,"v":368},{"h":7.22,"v":392},{"h":7.3,"v":376},{"h":7.4,"v":378},{"h":7.5,"v":376},{"h":7.6,"v":372},{"h":7.7,"v":374},{"h":7.78,"v":370},{"h":7.84,"v":380},{"h":7.88,"v":396},{"h":7.92,"v":437},{"h":7.96,"v":405},{"h":8.0,"v":420},{"h":8.04,"v":400},{"h":8.08,"v":415},{"h":8.13,"v":398},{"h":8.18,"v":418},{"h":8.24,"v":405},{"h":8.3,"v":412},{"h":8.36,"v":392},{"h":8.42,"v":410},{"h":8.5,"v":404},{"h":8.58,"v":408},{"h":8.66,"v":402},{"h":8.74,"v":414},{"h":8.8,"v":400},{"h":8.86,"v":418},{"h":8.92,"v":408},{"h":9.0,"v":424},{"h":9.06,"v":405},{"h":9.12,"v":428},{"h":9.18,"v":412},{"h":9.25,"v":432},{"h":9.3,"v":410},{"h":9.37,"v":435},{"h":9.45,"v":422},{"h":9.52,"v":438},{"h":9.56,"v":385},{"h":9.6,"v":430},{"h":9.68,"v":436},{"h":9.75,"v":433},{"h":9.8,"v":405},{"h":9.86,"v":420},{"h":9.92,"v":440},{"h":9.98,"v":418},{"h":10.05,"v":448},{"h":10.1,"v":415},{"h":10.16,"v":450},{"h":10.22,"v":425},{"h":10.28,"v":455},{"h":10.34,"v":430},{"h":10.4,"v":452},{"h":10.46,"v":410},{"h":10.52,"v":456},{"h":10.58,"v":428},{"h":10.64,"v":450},{"h":10.7,"v":398},{"h":10.76,"v":446},{"h":10.82,"v":420},{"h":10.88,"v":440},{"h":10.94,"v":415},{"h":11.0,"v":436},{"h":11.06,"v":425},{"h":11.12,"v":418},{"h":11.2,"v":425},{"h":11.28,"v":430},{"h":11.34,"v":440},{"h":11.4,"v":398},{"h":11.46,"v":446},{"h":11.52,"v":415},{"h":11.58,"v":445},{"h":11.64,"v":390},{"h":11.7,"v":442},{"h":11.76,"v":408},{"h":11.82,"v":444},{"h":11.88,"v":395},{"h":11.94,"v":440},{"h":12.0,"v":420},{"h":12.06,"v":445},{"h":12.12,"v":400},{"h":12.18,"v":442},{"h":12.24,"v":415},{"h":12.3,"v":438},{"h":12.38,"v":410},{"h":12.46,"v":436},{"h":12.55,"v":425},{"h":12.62,"v":428},{"h":12.7,"v":410},{"h":12.78,"v":400},{"h":12.86,"v":392},{"h":12.94,"v":385},{"h":13.0,"v":395},{"h":13.06,"v":362},{"h":13.12,"v":390},{"h":13.18,"v":380},{"h":13.24,"v":398},{"h":13.3,"v":370},{"h":13.36,"v":405},{"h":13.42,"v":385},{"h":13.48,"v":395},{"h":13.53,"v":360},{"h":13.58,"v":410},{"h":13.62,"v":441},{"h":13.68,"v":430},{"h":13.74,"v":438},{"h":13.8,"v":425},{"h":13.86,"v":440},{"h":13.92,"v":432},{"h":13.98,"v":442},{"h":14.04,"v":420},{"h":14.1,"v":440},{"h":14.16,"v":428},{"h":14.22,"v":445},{"h":14.28,"v":418},{"h":14.34,"v":440},{"h":14.4,"v":432},{"h":14.46,"v":445},{"h":14.52,"v":415},{"h":14.58,"v":440},{"h":14.64,"v":430},{"h":14.7,"v":446},{"h":14.76,"v":425},{"h":14.82,"v":442},{"h":14.88,"v":438},{"h":14.94,"v":446},{"h":15.0,"v":440},{"h":15.05,"v":420},{"h":15.1,"v":440},{"h":15.2,"v":438},{"h":15.3,"v":439},{"h":15.4,"v":438},{"h":15.5,"v":440},{"h":15.6,"v":438},{"h":15.7,"v":439},{"h":15.8,"v":437},{"h":15.9,"v":438},{"h":16.0,"v":437},{"h":16.1,"v":438},{"h":16.2,"v":437},{"h":16.35,"v":439},{"h":16.5,"v":436},{"h":16.65,"v":431},{"h":16.8,"v":429},{"h":16.9,"v":428},{"h":17.06,"v":429},{"h":17.2,"v":431},{"h":17.35,"v":433},{"h":17.5,"v":434},{"h":17.63,"v":435},{"h":17.75,"v":433},{"h":17.9,"v":431},{"h":18.06,"v":430},{"h":18.2,"v":432},{"h":18.34,"v":434},{"h":18.4,"v":431},{"h":18.52,"v":437},{"h":18.56,"v":408},{"h":18.6,"v":438},{"h":18.66,"v":420},{"h":18.72,"v":440},{"h":18.78,"v":410},{"h":18.84,"v":436},{"h":18.9,"v":425},{"h":18.96,"v":440},{"h":19.02,"v":415},{"h":19.05,"v":396},{"h":19.1,"v":440},{"h":19.16,"v":418},{"h":19.22,"v":436},{"h":19.28,"v":412},{"h":19.34,"v":440},{"h":19.4,"v":420},{"h":19.46,"v":441},{"h":19.52,"v":405},{"h":19.58,"v":438},{"h":19.64,"v":415},{"h":19.7,"v":442},{"h":19.76,"v":420},{"h":19.82,"v":438},{"h":19.88,"v":410},{"h":19.92,"v":435},{"h":19.98,"v":418},{"h":20.04,"v":425},{"h":20.12,"v":420},{"h":20.2,"v":428},{"h":20.28,"v":425},{"h":20.34,"v":420},{"h":20.42,"v":432},{"h":20.48,"v":415},{"h":20.55,"v":438},{"h":20.62,"v":405},{"h":20.66,"v":384},{"h":20.7,"v":430},{"h":20.76,"v":440},{"h":20.82,"v":445},{"h":20.88,"v":420},{"h":20.94,"v":448},{"h":21.0,"v":410},{"h":21.06,"v":445},{"h":21.12,"v":425},{"h":21.18,"v":435},{"h":21.26,"v":450},{"h":21.32,"v":455},{"h":21.38,"v":462},{"h":21.44,"v":440},{"h":21.48,"v":470},{"h":21.53,"v":482},{"h":21.58,"v":455},{"h":21.64,"v":450},{"h":21.7,"v":445},{"h":21.76,"v":448},{"h":21.82,"v":440},{"h":21.88,"v":455},{"h":21.95,"v":482},{"h":22.0,"v":460},{"h":22.05,"v":450},{"h":22.1,"v":457},{"h":22.18,"v":445},{"h":22.24,"v":452},{"h":22.3,"v":449},{"h":22.38,"v":440},{"h":22.45,"v":446},{"h":22.52,"v":442},{"h":22.6,"v":441},{"h":22.68,"v":438},{"h":22.75,"v":440},{"h":22.82,"v":436},{"h":22.88,"v":440},{"h":22.92,"v":416},{"h":22.98,"v":430},{"h":23.05,"v":438},{"h":23.12,"v":432},{"h":23.2,"v":436},{"h":23.28,"v":425},{"h":23.35,"v":440},{"h":23.4,"v":371},{"h":23.44,"v":425},{"h":23.5,"v":432},{"h":23.58,"v":428},{"h":23.65,"v":422},{"h":23.72,"v":430},{"h":23.8,"v":420},{"h":23.87,"v":424},{"h":23.95,"v":418},{"h":24.02,"v":410},{"h":24.1,"v":414},{"h":24.16,"v":400},{"h":24.22,"v":412},{"h":24.28,"v":395},{"h":24.36,"v":410},{"h":24.44,"v":402},{"h":24.52,"v":408},{"h":24.6,"v":400},{"h":24.68,"v":406},{"h":24.76,"v":398},{"h":24.84,"v":404},{"h":24.92,"v":396},{"h":25.0,"v":405},{"h":25.08,"v":400},{"h":25.16,"v":396},{"h":25.24,"v":402},{"h":25.32,"v":395},{"h":25.4,"v":400},{"h":25.48,"v":392},{"h":25.56,"v":398},{"h":25.64,"v":390},{"h":25.7,"v":388},{"h":25.76,"v":375},{"h":25.82,"v":394},{"h":25.9,"v":390},{"h":25.98,"v":396},{"h":26.06,"v":388},{"h":26.14,"v":393},{"h":26.22,"v":386},{"h":26.3,"v":392},{"h":26.38,"v":388},{"h":26.46,"v":394},{"h":26.54,"v":385},{"h":26.6,"v":392},{"h":26.66,"v":384},{"h":26.72,"v":398},{"h":26.78,"v":388},{"h":26.84,"v":404},{"h":26.9,"v":414},{"h":26.96,"v":406},{"h":27.02,"v":410},{"h":27.06,"v":408}],
"temp": [{"h":4.0,"v":102000},{"h":4.06,"v":130000},{"h":4.12,"v":90000},{"h":4.18,"v":118000},{"h":4.24,"v":85000},{"h":4.3,"v":95000},{"h":4.38,"v":78000},{"h":4.45,"v":88000},{"h":4.52,"v":72000},{"h":4.6,"v":65000},{"h":4.66,"v":38000},{"h":4.72,"v":70000},{"h":4.8,"v":60000},{"h":4.88,"v":72000},{"h":4.94,"v":65000},{"h":5.0,"v":58000},{"h":5.08,"v":66000},{"h":5.16,"v":54000},{"h":5.22,"v":62000},{"h":5.3,"v":40000},{"h":5.36,"v":60000},{"h":5.44,"v":52000},{"h":5.5,"v":65000},{"h":5.54,"v":30000},{"h":5.6,"v":58000},{"h":5.68,"v":62000},{"h":5.74,"v":50000},{"h":5.8,"v":60000},{"h":5.88,"v":68000},{"h":5.94,"v":72000},{"h":6.0,"v":55000},{"h":6.08,"v":62000},{"h":6.14,"v":50000},{"h":6.22,"v":52000},{"h":6.3,"v":58000},{"h":6.38,"v":65000},{"h":6.44,"v":48000},{"h":6.5,"v":42000},{"h":6.56,"v":62000},{"h":6.62,"v":70000},{"h":6.7,"v":58000},{"h":6.76,"v":62000},{"h":6.82,"v":45000},{"h":6.86,"v":35000},{"h":6.9,"v":78000},{"h":6.96,"v":70000},{"h":7.04,"v":62000},{"h":7.1,"v":80000},{"h":7.16,"v":68000},{"h":7.22,"v":86000},{"h":7.3,"v":65000},{"h":7.36,"v":75000},{"h":7.42,"v":90000},{"h":7.5,"v":80000},{"h":7.56,"v":55000},{"h":7.6,"v":72000},{"h":7.68,"v":82000},{"h":7.74,"v":70000},{"h":7.8,"v":90000},{"h":7.86,"v":110000},{"h":7.92,"v":135000},{"h":7.98,"v":95000},{"h":8.04,"v":140000},{"h":8.08,"v":150000},{"h":8.14,"v":98000},{"h":8.2,"v":120000},{"h":8.26,"v":85000},{"h":8.32,"v":130000},{"h":8.38,"v":110000},{"h":8.44,"v":140000},{"h":8.5,"v":98000},{"h":8.56,"v":160000},{"h":8.62,"v":92000},{"h":8.68,"v":130000},{"h":8.74,"v":118000},{"h":8.8,"v":138000},{"h":8.86,"v":110000},{"h":8.92,"v":125000},{"h":9.0,"v":112000},{"h":9.06,"v":135000},{"h":9.12,"v":150000},{"h":9.18,"v":165000},{"h":9.24,"v":140000},{"h":9.3,"v":175000},{"h":9.35,"v":180000},{"h":9.42,"v":150000},{"h":9.48,"v":120000},{"h":9.54,"v":165000},{"h":9.6,"v":150000},{"h":9.68,"v":170000},{"h":9.74,"v":160000},{"h":9.8,"v":140000},{"h":9.86,"v":165000},{"h":9.92,"v":145000},{"h":9.98,"v":155000},{"h":10.04,"v":135000},{"h":10.1,"v":160000},{"h":10.16,"v":150000},{"h":10.22,"v":165000},{"h":10.28,"v":110000},{"h":10.32,"v":95000},{"h":10.38,"v":175000},{"h":10.44,"v":140000},{"h":10.5,"v":150000},{"h":10.56,"v":120000},{"h":10.62,"v":145000},{"h":10.68,"v":90000},{"h":10.74,"v":160000},{"h":10.8,"v":180000},{"h":10.86,"v":205000},{"h":10.92,"v":150000},{"h":10.98,"v":170000},{"h":11.04,"v":140000},{"h":11.1,"v":190000},{"h":11.16,"v":220000},{"h":11.22,"v":200000},{"h":11.28,"v":285000},{"h":11.34,"v":210000},{"h":11.4,"v":170000},{"h":11.46,"v":200000},{"h":11.52,"v":190000},{"h":11.58,"v":238000},{"h":11.64,"v":190000},{"h":11.7,"v":160000},{"h":11.76,"v":200000},{"h":11.82,"v":175000},{"h":11.88,"v":190000},{"h":11.94,"v":165000},{"h":12.0,"v":180000},{"h":12.06,"v":130000},{"h":12.1,"v":175000},{"h":12.16,"v":160000},{"h":12.22,"v":190000},{"h":12.28,"v":170000},{"h":12.36,"v":165000},{"h":12.42,"v":180000},{"h":12.48,"v":195000},{"h":12.54,"v":165000},{"h":12.6,"v":220000},{"h":12.68,"v":260000},{"h":12.74,"v":210000},{"h":12.8,"v":190000},{"h":12.86,"v":230000},{"h":12.9,"v":60000},{"h":12.94,"v":200000},{"h":13.0,"v":210000},{"h":13.06,"v":185000},{"h":13.12,"v":225000},{"h":13.18,"v":240000},{"h":13.24,"v":205000},{"h":13.3,"v":215000},{"h":13.36,"v":230000},{"h":13.42,"v":190000},{"h":13.47,"v":165000},{"h":13.52,"v":80000},{"h":13.56,"v":150000},{"h":13.64,"v":165000},{"h":13.7,"v":130000},{"h":13.78,"v":145000},{"h":13.84,"v":115000},{"h":13.9,"v":130000},{"h":13.96,"v":92000},{"h":14.02,"v":110000},{"h":14.08,"v":140000},{"h":14.14,"v":175000},{"h":14.2,"v":120000},{"h":14.28,"v":140000},{"h":14.34,"v":105000},{"h":14.4,"v":130000},{"h":14.46,"v":120000},{"h":14.52,"v":95000},{"h":14.6,"v":105000},{"h":14.66,"v":88000},{"h":14.72,"v":100000},{"h":14.8,"v":80000},{"h":14.86,"v":95000},{"h":14.92,"v":86000},{"h":14.98,"v":98000},{"h":15.04,"v":78000},{"h":15.1,"v":100000},{"h":15.2,"v":92000},{"h":15.3,"v":88000},{"h":15.4,"v":93000},{"h":15.5,"v":90000},{"h":15.6,"v":92000},{"h":15.7,"v":91000},{"h":15.8,"v":93000},{"h":15.9,"v":90000},{"h":16.0,"v":88000},{"h":16.1,"v":90000},{"h":16.2,"v":91000},{"h":16.35,"v":89000},{"h":16.5,"v":86000},{"h":16.65,"v":82000},{"h":16.78,"v":78000},{"h":16.9,"v":77000},{"h":17.06,"v":76000},{"h":17.2,"v":78000},{"h":17.35,"v":80000},{"h":17.5,"v":79000},{"h":17.63,"v":82000},{"h":17.8,"v":84000},{"h":17.95,"v":83000},{"h":18.06,"v":86000},{"h":18.2,"v":84000},{"h":18.3,"v":90000},{"h":18.4,"v":95000},{"h":18.5,"v":88000},{"h":18.55,"v":60000},{"h":18.6,"v":92000},{"h":18.66,"v":100000},{"h":18.72,"v":80000},{"h":18.8,"v":110000},{"h":18.86,"v":95000},{"h":18.92,"v":70000},{"h":18.98,"v":105000},{"h":19.05,"v":85000},{"h":19.1,"v":110000},{"h":19.16,"v":98000},{"h":19.22,"v":115000},{"h":19.28,"v":90000},{"h":19.34,"v":120000},{"h":19.4,"v":100000},{"h":19.46,"v":140000},{"h":19.52,"v":125000},{"h":19.55,"v":150000},{"h":19.6,"v":95000},{"h":19.66,"v":75000},{"h":19.72,"v":115000},{"h":19.78,"v":65000},{"h":19.84,"v":60000},{"h":19.9,"v":52000},{"h":19.96,"v":45000},{"h":20.02,"v":55000},{"h":20.08,"v":38000},{"h":20.14,"v":48000},{"h":20.2,"v":42000},{"h":20.26,"v":58000},{"h":20.32,"v":50000},{"h":20.4,"v":62000},{"h":20.48,"v":55000},{"h":20.54,"v":72000},{"h":20.6,"v":60000},{"h":20.66,"v":22000},{"h":20.7,"v":60000},{"h":20.76,"v":85000},{"h":20.82,"v":110000},{"h":20.9,"v":130000},{"h":20.96,"v":105000},{"h":21.02,"v":140000},{"h":21.08,"v":115000},{"h":21.14,"v":150000},{"h":21.2,"v":120000},{"h":21.26,"v":170000},{"h":21.32,"v":145000},{"h":21.38,"v":185000},{"h":21.44,"v":210000},{"h":21.5,"v":160000},{"h":21.56,"v":190000},{"h":21.62,"v":150000},{"h":21.68,"v":200000},{"h":21.74,"v":170000},{"h":21.8,"v":185000},{"h":21.86,"v":210000},{"h":21.92,"v":175000},{"h":21.98,"v":200000},{"h":22.04,"v":165000},{"h":22.1,"v":190000},{"h":22.18,"v":220000},{"h":22.24,"v":180000},{"h":22.31,"v":240000},{"h":22.38,"v":195000},{"h":22.44,"v":215000},{"h":22.5,"v":165000},{"h":22.56,"v":200000},{"h":22.62,"v":180000},{"h":22.7,"v":210000},{"h":22.78,"v":230000},{"h":22.86,"v":195000},{"h":22.92,"v":220000},{"h":23.0,"v":205000},{"h":23.08,"v":250000},{"h":23.16,"v":285000},{"h":23.22,"v":230000},{"h":23.28,"v":200000},{"h":23.34,"v":260000},{"h":23.38,"v":380000},{"h":23.41,"v":55000},{"h":23.45,"v":250000},{"h":23.5,"v":200000},{"h":23.56,"v":230000},{"h":23.62,"v":185000},{"h":23.68,"v":210000},{"h":23.74,"v":195000},{"h":23.8,"v":200000},{"h":23.86,"v":185000},{"h":23.92,"v":210000},{"h":24.0,"v":190000},{"h":24.06,"v":200000},{"h":24.12,"v":180000},{"h":24.2,"v":210000},{"h":24.26,"v":170000},{"h":24.32,"v":190000},{"h":24.38,"v":220000},{"h":24.44,"v":180000},{"h":24.5,"v":200000},{"h":24.56,"v":260000},{"h":24.62,"v":230000},{"h":24.68,"v":250000},{"h":24.72,"v":285000},{"h":24.78,"v":220000},{"h":24.84,"v":240000},{"h":24.9,"v":200000},{"h":24.96,"v":230000},{"h":25.02,"v":210000},{"h":25.08,"v":95000},{"h":25.12,"v":230000},{"h":25.18,"v":250000},{"h":25.24,"v":200000},{"h":25.3,"v":230000},{"h":25.36,"v":260000},{"h":25.42,"v":210000},{"h":25.48,"v":245000},{"h":25.54,"v":200000},{"h":25.6,"v":260000},{"h":25.66,"v":220000},{"h":25.72,"v":250000},{"h":25.78,"v":210000},{"h":25.86,"v":285000},{"h":25.92,"v":240000},{"h":25.98,"v":200000},{"h":26.04,"v":250000},{"h":26.1,"v":230000},{"h":26.16,"v":270000},{"h":26.22,"v":220000},{"h":26.28,"v":285000},{"h":26.34,"v":240000},{"h":26.4,"v":150000},{"h":26.46,"v":230000},{"h":26.52,"v":260000},{"h":26.58,"v":245000},{"h":26.64,"v":210000},{"h":26.7,"v":250000},{"h":26.76,"v":200000},{"h":26.82,"v":230000},{"h":26.86,"v":170000},{"h":26.9,"v":350000},{"h":26.94,"v":400000},{"h":27.0,"v":330000},{"h":27.06,"v":300000}]
},
"vconcat": [
{
 "width": 563, "height": 83,
 "layer": [
  {"data": {"name": "bt"}, "mark": {"type": "line", "color": "black", "strokeWidth": 1},
   "encoding": {
    "x": {"field": "h", "type": "quantitative", "scale": {"domain": [4, 28], "nice": false, "zero": false}, "axis": {"orient": "bottom", "values": [4,6,8,10,12,14,16,18,20,22,24,26,28], "labels": false, "title": null}},
    "y": {"field": "v", "type": "quantitative", "scale": {"domain": [-15, 15], "nice": false, "zero": false}, "axis": {"orient": "left", "values": [-15,-10,-5,0,5,10,15], "title": "Bt,Bz", "titleAngle": 0, "titleAlign": "left", "titleBaseline": "middle", "titleX": -46, "titleY": 41.5}}
   }},
  {"data": {"name": "bz"}, "mark": {"type": "line", "color": "#ff0000", "strokeWidth": 1},
   "encoding": {
    "x": {"field": "h", "type": "quantitative", "scale": {"domain": [4, 28], "nice": false, "zero": false}, "axis": {"orient": "top", "values": [4,6,8,10,12,14,16,18,20,22,24,26,28], "labels": false, "title": null}},
    "y": {"field": "v", "type": "quantitative", "scale": {"domain": [-15, 15], "nice": false, "zero": false}, "axis": {"orient": "right", "values": [-15,-10,-5,0,5,10,15], "labels": false, "title": null}}
   }},
  {"data": {"values": [{}]}, "mark": {"type": "rule", "color": "#808080", "strokeWidth": 2},
   "encoding": {"y": {"datum": 0, "type": "quantitative", "axis": null}}}
 ],
 "resolve": {"axis": {"x": "independent", "y": "independent"}}
},
{
 "width": 563, "height": 83,
 "layer": [
  {"data": {"values": [{}]}, "mark": {"type": "rule", "color": "#b96e6e", "strokeWidth": 2, "strokeDash": [10, 6]},
   "encoding": {
    "x": {"datum": 4, "type": "quantitative", "scale": {"domain": [4, 28], "nice": false, "zero": false}, "axis": {"orient": "top", "values": [4,6,8,10,12,14,16,18,20,22,24,26,28], "labels": false, "title": null}},
    "x2": {"datum": 28},
    "y": {"datum": 225, "type": "quantitative", "scale": {"domain": [45, 405], "nice": false, "zero": false}, "axis": {"orient": "right", "values": [45,135,225,315,405], "labels": false, "title": null}}
   }},
  {"data": {"name": "phi"}, "mark": {"type": "circle", "size": 9, "opacity": 1},
   "encoding": {
    "x": {"field": "h", "type": "quantitative", "scale": {"domain": [4, 28], "nice": false, "zero": false}, "axis": {"orient": "bottom", "values": [4,6,8,10,12,14,16,18,20,22,24,26,28], "labels": false, "title": null}},
    "y": {"field": "v", "type": "quantitative", "scale": {"domain": [45, 405], "nice": false, "zero": false}, "axis": {"orient": "left", "values": [45,135,225,315,405], "title": ["T", "Phi", "A"], "titleLineHeight": 21.5, "titleAngle": 0, "titleAlign": "left", "titleBaseline": "middle", "titleX": -46, "titleY": 20}},
    "color": {"field": "s", "type": "nominal", "scale": {"domain": ["T", "A", "G"], "range": ["#87cefa", "#ff80ff", "#c0c0c0"]}, "legend": null}
   }}
 ],
 "resolve": {"axis": {"x": "independent", "y": "independent"}}
},
{
 "width": 563, "height": 83,
 "layer": [
  {"data": {"name": "n"}, "mark": {"type": "line", "color": "#ff00ff", "strokeWidth": 1},
   "encoding": {
    "x": {"field": "h", "type": "quantitative", "scale": {"domain": [4, 28], "nice": false, "zero": false}, "axis": {"orient": "bottom", "values": [4,6,8,10,12,14,16,18,20,22,24,26,28], "labels": false, "title": null}},
    "y": {"field": "v", "type": "quantitative", "scale": {"type": "log", "domain": [0.1, 100], "nice": false}, "axis": {"orient": "left", "values": [0.1,0.2,0.3,0.4,0.5,0.6,0.7,0.8,0.9,1,2,3,4,5,6,7,8,9,10,20,30,40,50,60,70,80,90,100], "labelExpr": "indexof([0.1,1,10,100], datum.value) >= 0 ? datum.label : ''", "tickSize": {"condition": {"test": "indexof([0.1,1,10,100], datum.value) >= 0", "value": -5}, "value": -3}, "tickColor": {"condition": {"test": "indexof([0.1,1,10,100], datum.value) >= 0", "value": "black"}, "value": "#777777"}, "title": "N", "titleAngle": 0, "titleAlign": "left", "titleBaseline": "middle", "titleX": -46, "titleY": 41.5}}
   }},
  {"data": {"values": [{"r": 1}, {"r": 10}]}, "mark": {"type": "rule", "color": "#9b1c1c", "strokeWidth": 1.5, "strokeDash": [10, 6]},
   "encoding": {
    "x": {"datum": 4, "type": "quantitative", "scale": {"domain": [4, 28], "nice": false, "zero": false}, "axis": {"orient": "top", "values": [4,6,8,10,12,14,16,18,20,22,24,26,28], "labels": false, "title": null}},
    "x2": {"datum": 28},
    "y": {"field": "r", "type": "quantitative", "scale": {"type": "log", "domain": [0.1, 100], "nice": false}, "axis": {"orient": "right", "values": [0.1,1,10,100], "labels": false, "title": null}}
   }}
 ],
 "resolve": {"axis": {"x": "independent", "y": "independent"}}
},
{
 "width": 563, "height": 83,
 "layer": [
  {"data": {"name": "vel"}, "mark": {"type": "line", "color": "#0000ff", "strokeWidth": 1},
   "encoding": {
    "x": {"field": "h", "type": "quantitative", "scale": {"domain": [4, 28], "nice": false, "zero": false}, "axis": {"orient": "bottom", "values": [4,6,8,10,12,14,16,18,20,22,24,26,28], "labels": false, "title": null}},
    "y": {"field": "v", "type": "quantitative", "scale": {"domain": [300, 500], "nice": false, "zero": false}, "axis": {"orient": "left", "values": [300,400,500], "title": "V", "titleAngle": 0, "titleAlign": "left", "titleBaseline": "middle", "titleX": -46, "titleY": 41.5}}
   }},
  {"data": {"values": [{}]}, "mark": {"type": "rule", "strokeOpacity": 0},
   "encoding": {
    "x": {"datum": 4, "type": "quantitative", "scale": {"domain": [4, 28], "nice": false, "zero": false}, "axis": {"orient": "top", "values": [4,6,8,10,12,14,16,18,20,22,24,26,28], "labels": false, "title": null}},
    "x2": {"datum": 28},
    "y": {"datum": 400, "type": "quantitative", "scale": {"domain": [300, 500], "nice": false, "zero": false}, "axis": {"orient": "right", "values": [300,400,500], "labels": false, "title": null}}
   }}
 ],
 "resolve": {"axis": {"x": "independent", "y": "independent"}}
},
{
 "width": 563, "height": 83,
 "layer": [
  {"data": {"name": "temp"}, "mark": {"type": "line", "color": "#00ff00", "strokeWidth": 1},
   "encoding": {
    "x": {"field": "h", "type": "quantitative", "scale": {"domain": [4, 28], "nice": false, "zero": false}, "axis": {"orient": "bottom", "values": [4,6,8,10,12,14,16,18,20,22,24,26,28], "labelExpr": "'' + (datum.value % 24)", "title": "UT", "titlePadding": 1}},
    "y": {"field": "v", "type": "quantitative", "scale": {"type": "log", "domain": [10000, 1000000], "nice": false}, "axis": {"orient": "left", "values": [10000,20000,30000,40000,50000,60000,70000,80000,90000,100000,200000,300000,400000,500000,600000,700000,800000,900000,1000000], "labelExpr": "datum.value == 10000 ? '1e+4' : datum.value == 100000 ? '1e+5' : datum.value == 1000000 ? '1e+6' : ''", "tickSize": {"condition": {"test": "indexof([10000,100000,1000000], datum.value) >= 0", "value": -5}, "value": -3}, "tickColor": {"condition": {"test": "indexof([10000,100000,1000000], datum.value) >= 0", "value": "black"}, "value": "#777777"}, "title": "T", "titleAngle": 0, "titleAlign": "left", "titleBaseline": "middle", "titleX": -46, "titleY": 41.5}}
   }},
  {"data": {"values": [{}]}, "mark": {"type": "rule", "color": "#b96e6e", "strokeWidth": 2, "strokeDash": [10, 6]},
   "encoding": {
    "x": {"datum": 4, "type": "quantitative", "scale": {"domain": [4, 28], "nice": false, "zero": false}, "axis": {"orient": "top", "values": [4,6,8,10,12,14,16,18,20,22,24,26,28], "labels": false, "title": null}},
    "x2": {"datum": 28},
    "y": {"datum": 100000, "type": "quantitative", "scale": {"type": "log", "domain": [10000, 1000000], "nice": false}, "axis": {"orient": "right", "values": [10000,100000,1000000], "labels": false, "title": null}}
   }}
 ],
 "resolve": {"axis": {"x": "independent", "y": "independent"}}
}
]
}
